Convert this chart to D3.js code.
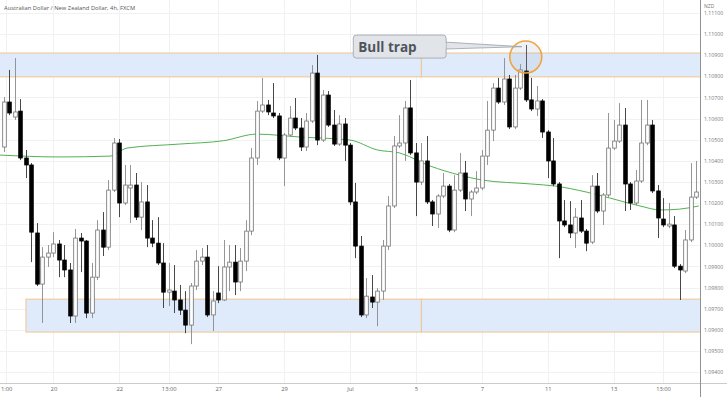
<!DOCTYPE html>
<html>
<head>
<meta charset="utf-8">
<script src="https://cdn.jsdelivr.net/npm/d3@7"></script>
<style>
  html, body { margin: 0; padding: 0; background: #fff; }
  svg { display: block; font-family: 'Open Sans', sans-serif; }
</style>
</head>
<body>
<div id="chart"></div>
<script>
'use strict';

var title = 'Australian Dollar / New Zealand Dollar, 4h, FXCM';
var currency = 'NZD';

// 4h candles
var open = [1.10465, 1.10678, 1.10607, 1.10635, 1.10413, 1.10380, 1.10058, 1.09816, 1.09944, 1.09963,
  1.10006, 1.09930, 1.09883, 1.09665, 1.10034, 1.10020, 1.09679, 1.09849, 1.10072, 1.09991,
  1.10261, 1.10484, 1.10200, 1.10271, 1.10285, 1.10133, 1.10205, 1.10034, 1.10010, 1.09916,
  1.09778, 1.09783, 1.09741, 1.09693, 1.09622, 1.09807, 1.09925, 1.09944, 1.09670, 1.09774,
  1.09741, 1.09897, 1.09920, 1.09826, 1.09925, 1.10067, 1.10413, 1.10635, 1.10664, 1.10626,
  1.10612, 1.10413, 1.10522, 1.10602, 1.10555, 1.10465, 1.10588, 1.10815, 1.10498, 1.10711,
  1.10569, 1.10479, 1.10574, 1.10474, 1.10205, 1.09996, 1.09670, 1.09755, 1.09731, 1.09783,
  1.09996, 1.10186, 1.10470, 1.10484, 1.10650, 1.10437, 1.10299, 1.10399, 1.10205, 1.10148,
  1.10233, 1.10280, 1.10072, 1.10261, 1.10342, 1.10219, 1.10252, 1.10271, 1.10422, 1.10545,
  1.10744, 1.10678, 1.10787, 1.10560, 1.10744, 1.10825, 1.10688, 1.10645, 1.10683, 1.10536,
  1.10399, 1.10290, 1.10115, 1.10096, 1.10058, 1.10129, 1.10067, 1.10015, 1.10280, 1.10162,
  1.10238, 1.10460, 1.10493, 1.10569, 1.10290, 1.10200, 1.10304, 1.10484, 1.10569, 1.10257,
  1.10124, 1.10091, 1.10096, 1.09901, 1.09878, 1.10025, 1.10228];
var high = [1.10702, 1.10830, 1.10886, 1.10692, 1.10451, 1.10389, 1.10105, 1.09991, 1.10001, 1.10062,
  1.10025, 1.10001, 1.09916, 1.10077, 1.10058, 1.10025, 1.09916, 1.10119, 1.10157, 1.10309,
  1.10508, 1.10503, 1.10380, 1.10380, 1.10342, 1.10299, 1.10285, 1.10119, 1.10133, 1.10010,
  1.09916, 1.09906, 1.09812, 1.09783, 1.09821, 1.09977, 1.09987, 1.10001, 1.09783, 1.09901,
  1.10025, 1.10001, 1.10001, 1.09987, 1.10119, 1.10460, 1.10683, 1.10792, 1.10688, 1.10768,
  1.10626, 1.10531, 1.10659, 1.10697, 1.10602, 1.10626, 1.10853, 1.10901, 1.10735, 1.10730,
  1.10640, 1.10616, 1.10602, 1.10484, 1.10295, 1.10044, 1.09845, 1.09859, 1.09797, 1.10025,
  1.10233, 1.10517, 1.10616, 1.10683, 1.10782, 1.10484, 1.10484, 1.10517, 1.10214, 1.10242,
  1.10342, 1.10290, 1.10332, 1.10437, 1.10399, 1.10261, 1.10351, 1.10451, 1.10683, 1.10768,
  1.10792, 1.10886, 1.10806, 1.10806, 1.10858, 1.10948, 1.10792, 1.10754, 1.10692, 1.10545,
  1.10508, 1.10299, 1.10214, 1.10209, 1.10176, 1.10214, 1.10077, 1.10332, 1.10342, 1.10247,
  1.10626, 1.10593, 1.10673, 1.10650, 1.10299, 1.10356, 1.10688, 1.10688, 1.10593, 1.10285,
  1.10223, 1.10200, 1.10138, 1.09911, 1.10072, 1.10389, 1.10399];
var low = [1.10441, 1.10616, 1.10593, 1.10403, 1.10318, 1.09920, 1.09807, 1.09632, 1.09897, 1.09944,
  1.09849, 1.09849, 1.09632, 1.09632, 1.09873, 1.09655, 1.09655, 1.09835, 1.09949, 1.09977,
  1.10252, 1.10133, 1.10190, 1.10105, 1.10119, 1.10072, 1.09991, 1.09991, 1.09906, 1.09703,
  1.09712, 1.09679, 1.09670, 1.09584, 1.09532, 1.09788, 1.09906, 1.09660, 1.09594, 1.09726,
  1.09736, 1.09783, 1.09764, 1.09783, 1.09878, 1.10048, 1.10380, 1.10626, 1.10616, 1.10602,
  1.10403, 1.10280, 1.10512, 1.10545, 1.10446, 1.10446, 1.10579, 1.10474, 1.10489, 1.10560,
  1.10470, 1.10470, 1.10399, 1.10190, 1.09939, 1.09660, 1.09655, 1.09703, 1.09617, 1.09741,
  1.09977, 1.10176, 1.10460, 1.10399, 1.10427, 1.10138, 1.10285, 1.10195, 1.10091, 1.10081,
  1.10223, 1.10062, 1.10062, 1.10252, 1.10162, 1.10138, 1.10242, 1.10261, 1.10380, 1.10493,
  1.10669, 1.10664, 1.10550, 1.10550, 1.10735, 1.10678, 1.10635, 1.10612, 1.10508, 1.10318,
  1.10280, 1.09939, 1.10086, 1.10034, 1.09987, 1.10058, 1.09972, 1.10006, 1.10152, 1.10096,
  1.10228, 1.10451, 1.10484, 1.10162, 1.10167, 1.10190, 1.10295, 1.10474, 1.10247, 1.10034,
  1.10086, 1.10081, 1.09892, 1.09741, 1.09868, 1.10015, 1.10219];
var close = [1.10678, 1.10626, 1.10631, 1.10413, 1.10380, 1.10062, 1.09816, 1.09944, 1.09963, 1.10006,
  1.09930, 1.09883, 1.09665, 1.10034, 1.10020, 1.09679, 1.09849, 1.10072, 1.09991, 1.10261,
  1.10484, 1.10200, 1.10285, 1.10285, 1.10133, 1.10205, 1.10034, 1.10010, 1.09916, 1.09778,
  1.09788, 1.09741, 1.09693, 1.09622, 1.09807, 1.09925, 1.09944, 1.09670, 1.09736, 1.09741,
  1.09897, 1.09920, 1.09826, 1.09925, 1.10067, 1.10413, 1.10635, 1.10664, 1.10631, 1.10612,
  1.10413, 1.10522, 1.10602, 1.10555, 1.10465, 1.10588, 1.10815, 1.10498, 1.10711, 1.10569,
  1.10479, 1.10574, 1.10474, 1.10205, 1.09996, 1.09670, 1.09759, 1.09731, 1.09783, 1.09996,
  1.10186, 1.10470, 1.10484, 1.10650, 1.10437, 1.10299, 1.10399, 1.10205, 1.10148, 1.10233,
  1.10280, 1.10072, 1.10261, 1.10342, 1.10219, 1.10252, 1.10271, 1.10422, 1.10545, 1.10744,
  1.10678, 1.10787, 1.10560, 1.10744, 1.10830, 1.10688, 1.10645, 1.10683, 1.10536, 1.10399,
  1.10290, 1.10115, 1.10096, 1.10058, 1.10133, 1.10067, 1.10010, 1.10280, 1.10162, 1.10238,
  1.10460, 1.10493, 1.10569, 1.10290, 1.10200, 1.10304, 1.10484, 1.10569, 1.10257, 1.10129,
  1.10096, 1.10100, 1.09901, 1.09883, 1.10025, 1.10228, 1.10252];

// moving average (green), sampled along the line: candle index / price
var maIdx = [-0.8, 10, 19.3, 22.4, 32, 40, 46, 54, 63, 68, 72, 77.6, 83, 87, 96, 100.4, 106, 110.4, 115.8, 119.5, 123, 126.5];
var maVal = [1.10427, 1.10418, 1.10422, 1.10460, 1.10479, 1.10495, 1.10526, 1.10512, 1.10498, 1.10451, 1.10437,
  1.10375, 1.10332, 1.10309, 1.10290, 1.10280, 1.10252, 1.10223, 1.10186, 1.10167, 1.10171, 1.10186];

var priceTicks = [1.111, 1.110, 1.109, 1.108, 1.107, 1.106, 1.105, 1.104, 1.103, 1.102, 1.101,
  1.100, 1.099, 1.098, 1.097, 1.096, 1.095, 1.094];
var timeLabels = ['1:00', '20', '22', '13:00', '27', '29', 'Jul', '5', '7', '11', '13', '13:00'];
var timeIdx = [0.4, 9, 21, 30, 39, 51, 63, 75, 87, 99, 111, 120];

// supply / demand zones: [low, high], start candle
var topZone = [1.10797, 1.10910];
var bottomZone = [1.09589, 1.09745];
var zoneStart = [-2, 4];
var zoneSplit = 76;

var trapText = 'Bull trap';
var trapIdx = 95;
var trapPrice = 1.10891;
var boxIdx = [63.6, 80.5];
var boxPrice = [1.10995, 1.10886];
var tipIdx = 94.3;
var tipPrice = 1.10940;

var W = 727, H = 397;
var plotRight = 700, plotBottom = 383;

var x = d3.scaleLinear().domain([0, open.length - 1]).range([4, 696]);
var y = d3.scaleLinear().domain([1.094, 1.110]).range([372, 34]);

var svg = d3.select('#chart').append('svg')
  .attr('width', W)
  .attr('height', H);

svg.append('defs').append('clipPath').attr('id', 'plot')
  .append('rect').attr('x', 0).attr('y', 0).attr('width', plotRight).attr('height', plotBottom);

var plot = svg.append('g').attr('clip-path', 'url(#plot)');

// grid
plot.selectAll('.hgrid').data(priceTicks).enter().append('line')
  .attr('x1', 0).attr('x2', plotRight)
  .attr('y1', function(d) { return Math.round(y(d)) + 0.5; })
  .attr('y2', function(d) { return Math.round(y(d)) + 0.5; })
  .attr('stroke', '#f0f1f3');
plot.selectAll('.vgrid').data(timeIdx).enter().append('line')
  .attr('y1', 0).attr('y2', plotBottom)
  .attr('x1', function(d) { return Math.round(x(d)) + 0.5; })
  .attr('x2', function(d) { return Math.round(x(d)) + 0.5; })
  .attr('stroke', '#f0f1f3');

// zones
[topZone, bottomZone].forEach(function(z, k) {
  var pieces = [[zoneStart[k], zoneSplit], [zoneSplit, null]];
  pieces.forEach(function(p) {
    var x0 = x(p[0]);
    var x1 = p[1] === null ? plotRight + 2 : x(p[1]);
    plot.append('rect')
      .attr('x', x0).attr('width', x1 - x0)
      .attr('y', y(z[1])).attr('height', y(z[0]) - y(z[1]))
      .attr('fill', '#dfebfb')
      .attr('stroke', '#f1c48f')
      .attr('stroke-width', 1);
  });
});

// moving average
var ma = maIdx.map(function(d, i) { return [d, maVal[i]]; });
plot.append('path')
  .datum(ma)
  .attr('fill', 'none')
  .attr('stroke', '#52b152')
  .attr('stroke-width', 1)
  .attr('d', d3.line()
    .x(function(d) { return x(d[0]); })
    .y(function(d) { return y(d[1]); })
    .curve(d3.curveMonotoneX));

// candles
var candles = open.map(function(o, i) {
  return {i: i, o: o, h: high[i], l: low[i], c: close[i], up: close[i] >= o};
});
var bw = 3.6;

plot.selectAll('.wick').data(candles).enter().append('line')
  .attr('x1', function(d) { return Math.round(x(d.i)) + 0.5; })
  .attr('x2', function(d) { return Math.round(x(d.i)) + 0.5; })
  .attr('y1', function(d) { return y(d.h); })
  .attr('y2', function(d) { return y(d.l); })
  .attr('stroke', function(d) { return d.up ? '#8a8a8a' : '#333'; })
  .attr('stroke-width', 0.9);

plot.selectAll('.body').data(candles).enter().append('rect')
  .attr('x', function(d) { return Math.round(x(d.i)) + 0.5 - bw / 2; })
  .attr('width', bw)
  .attr('y', function(d) { return y(Math.max(d.o, d.c)); })
  .attr('height', function(d) { return Math.max(1, Math.abs(y(d.o) - y(d.c))); })
  .attr('fill', function(d) { return d.up ? '#fff' : '#000'; })
  .attr('stroke', function(d) { return d.up ? '#6f6f6f' : '#000'; })
  .attr('stroke-width', 0.8);

// bull trap callout
plot.append('circle')
  .attr('cx', x(trapIdx)).attr('cy', y(trapPrice)).attr('r', 16)
  .attr('fill', 'rgba(160,175,200,0.18)')
  .attr('stroke', '#f0a43a')
  .attr('stroke-width', 1.6);

var bx0 = x(boxIdx[0]), bx1 = x(boxIdx[1]);
var by0 = y(boxPrice[0]), by1 = y(boxPrice[1]);
plot.append('path')
  .attr('d', 'M' + (bx1 - 2) + ',' + (by0 + 7) + 'L' + x(tipIdx) + ',' + y(tipPrice) + 'L' + (bx1 - 2) + ',' + (by0 + 14) + 'Z')
  .attr('fill', '#e1e4e9')
  .attr('stroke', '#9ba1a9')
  .attr('stroke-width', 0.8);
plot.append('rect')
  .attr('x', bx0).attr('y', by0)
  .attr('width', bx1 - bx0).attr('height', by1 - by0)
  .attr('rx', 3)
  .attr('fill', '#e1e4e9')
  .attr('stroke', '#9ba1a9')
  .attr('stroke-width', 0.8);
plot.append('rect')
  .attr('x', bx1 - 3).attr('y', by0 + 7.5).attr('width', 2.5).attr('height', 6)
  .attr('fill', '#e1e4e9');
plot.append('text')
  .attr('x', bx0 + 5).attr('y', (by0 + by1) / 2 + 5)
  .attr('font-size', 13.5).attr('font-weight', 700)
  .attr('fill', '#4f545c')
  .text(trapText);

// axes
var yAxis = d3.axisRight(y)
  .tickValues(priceTicks)
  .tickFormat(d3.format('.5f'))
  .tickSize(0)
  .tickPadding(4);
var gy = svg.append('g')
  .attr('transform', 'translate(' + plotRight + ',0)')
  .call(yAxis);
gy.select('.domain').remove();
gy.selectAll('text').attr('font-size', 5.2).attr('fill', '#777').attr('font-family', "'Open Sans', sans-serif");

var xAxis = d3.axisBottom(x)
  .tickValues(timeIdx)
  .tickFormat(function(d, i) { return timeLabels[i]; })
  .tickSize(0)
  .tickPadding(4);
var gx = svg.append('g')
  .attr('transform', 'translate(0,' + plotBottom + ')')
  .call(xAxis);
gx.select('.domain').remove();
gx.selectAll('text').attr('font-size', 5.8).attr('fill', '#666').attr('font-family', "'Open Sans', sans-serif");

svg.append('line')
  .attr('x1', 0).attr('x2', W)
  .attr('y1', plotBottom + 0.5).attr('y2', plotBottom + 0.5)
  .attr('stroke', '#c9cbcf');
svg.append('line')
  .attr('x1', plotRight + 0.5).attr('x2', plotRight + 0.5)
  .attr('y1', 0).attr('y2', H)
  .attr('stroke', '#8f9398');

svg.append('text')
  .attr('x', 4).attr('y', 10)
  .attr('font-size', 5.8)
  .attr('fill', '#555')
  .text(title);
svg.append('text')
  .attr('x', 704).attr('y', 8)
  .attr('font-size', 5)
  .attr('fill', '#777')
  .text(currency);
</script>
</body>
</html>
